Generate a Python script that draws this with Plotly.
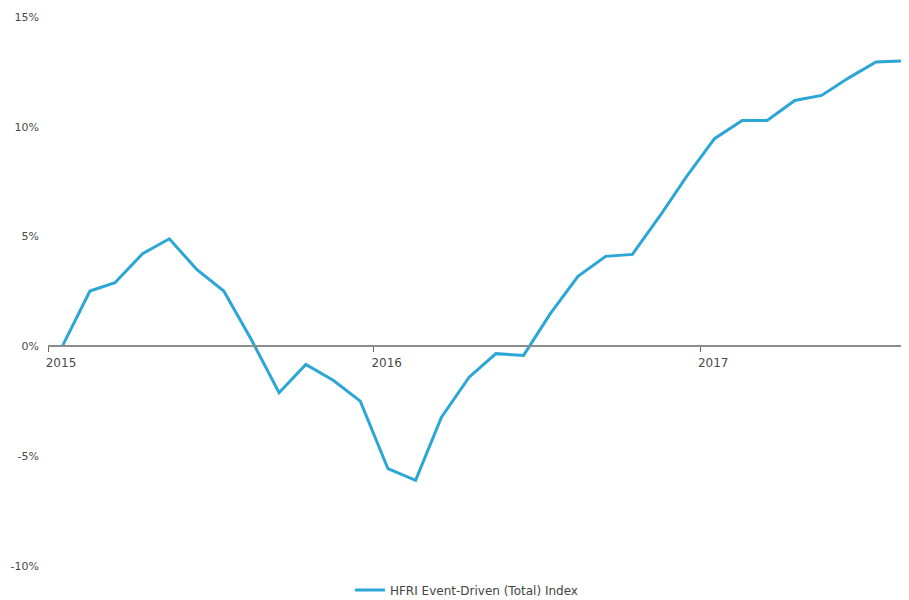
import plotly.graph_objects as go

months = [
    "2015-01-17", "2015-02-17", "2015-03-17", "2015-04-17", "2015-05-17", "2015-06-17",
    "2015-07-17", "2015-08-17", "2015-09-17", "2015-10-17", "2015-11-17", "2015-12-17",
    "2016-01-17", "2016-02-17", "2016-03-17", "2016-04-17", "2016-05-17", "2016-06-17",
    "2016-07-17", "2016-08-17", "2016-09-17", "2016-10-17", "2016-11-17", "2016-12-17",
    "2017-01-17", "2017-02-17", "2017-03-17", "2017-04-17", "2017-05-17", "2017-06-17",
    "2017-07-17", "2017-08-17",
]
event_driven = [
    0.0, 2.52, 2.9, 4.22, 4.9, 3.49, 2.52, 0.3, -2.11, -0.82, -1.55, -2.49,
    -5.57, -6.1, -3.22, -1.4, -0.33, -0.41, 1.49, 3.19, 4.1, 4.19, 5.95, 7.75,
    9.46, 10.29, 10.29, 11.2, 11.43, 12.24, 12.95, 13.0,
]
series_name = "HFRI Event-Driven (Total) Index"
y_tick_values = [-10, -5, 0, 5, 10, 15]
y_tick_labels = ["-10%", "-5%", "0%", "5%", "10%", "15%"]
x_range = ["2015-01-01", "2017-08-23"]

fig = go.Figure()
fig.add_trace(go.Scatter(
    x=months, y=event_driven, mode="lines", name=series_name,
    line=dict(color="#2BA6D6", width=3),
))

fig.update_layout(
    width=901, height=600,
    margin=dict(l=40, r=0, t=9, b=42),
    paper_bgcolor="white", plot_bgcolor="white",
    font=dict(family="DejaVu Sans", size=11, color="#4a4a4a"),
    showlegend=True,
    legend=dict(orientation="h", x=0.486, xanchor="center", y=-0.0437, yanchor="middle",
                font=dict(size=12, color="#444444")),
    xaxis=dict(
        type="date", range=x_range,
        anchor="free", position=0.4,
        showline=True, linecolor="#8c8c8c", linewidth=2,
        showgrid=False, zeroline=False,
        ticks="outside", ticklen=5, tickwidth=1, tickcolor="#666666",
        dtick="M12", tick0="2015-01-01", tickformat="%Y",
        ticklabelshift=13, tickfont=dict(size=12),
    ),
    yaxis=dict(
        range=[-10, 15], tickvals=y_tick_values, ticktext=y_tick_labels,
        showgrid=False, zeroline=False, showline=False,
        ticks="", ticklabelstandoff=8,
    ),
)

fig.write_html("out.html")
